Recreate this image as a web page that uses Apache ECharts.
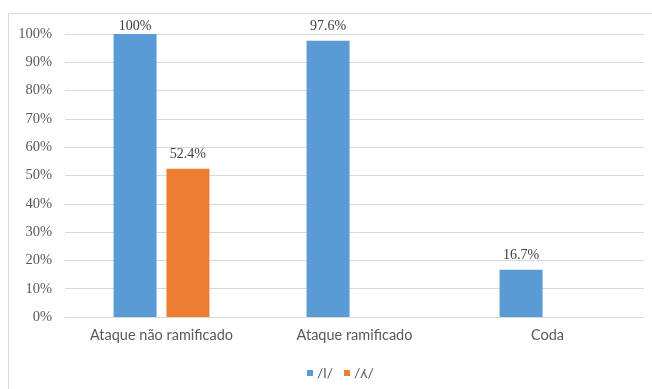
<!DOCTYPE html>
<html>
<head>
<meta charset="utf-8">
<script src="https://cdn.jsdelivr.net/npm/echarts@6/dist/echarts.min.js"></script>
<style>
  html, body { margin: 0; padding: 0; background: #ffffff; }
  #chart { width: 652px; height: 389px; }
</style>
</head>
<body>
<div id="chart"></div>
<script>
// Categories and percentages for each lateral
const categories = ['Ataque não ramificado', 'Ataque ramificado', 'Coda'];
const seriesNames = ['/l/', '/ʎ/'];
const valuesL = [100, 97.6, 16.7];
const valuesLambda = [52.4, null, null];
const yTicks = [0, 10, 20, 30, 40, 50, 60, 70, 80, 90, 100];

const chart = echarts.init(document.getElementById('chart'), null, { renderer: 'canvas' });

const valueLabel = {
  show: true,
  position: 'top',
  distance: 7,
  fontFamily: '"Liberation Serif", "DejaVu Serif", serif',
  fontSize: 14,
  color: '#404040',
  formatter: p => p.value + '%'
};

// A label on a full-height bar is kept tight against the bar top
const toData = arr => arr.map(v => (v === 100 ? { value: v, label: { distance: 1 } } : v));

chart.setOption({
  animation: false,
  backgroundColor: '#ffffff',
  graphic: [{
    type: 'rect',
    shape: { x: 8.5, y: 13.5, width: 700, height: 400 },
    style: { fill: 'none', stroke: '#d9d9d9', lineWidth: 1 },
    silent: true,
    z: -10
  }],
  grid: { left: 65, right: 8, top: 34, bottom: 72 },
  legend: {
    top: 361,
    left: 302,
    itemWidth: 6,
    itemHeight: 6,
    itemGap: 11,
    icon: 'rect',
    textStyle: { fontFamily: 'Lato, "Open Sans", sans-serif', fontSize: 14, color: '#595959', padding: [0, 0, 0, -1] },
    data: seriesNames
  },
  xAxis: {
    type: 'category',
    data: categories,
    axisLine: { show: true, lineStyle: { color: '#d9d9d9', width: 1 } },
    axisTick: { show: false },
    axisLabel: {
      margin: 11,
      fontFamily: 'Lato, "Open Sans", sans-serif',
      fontSize: 14.5,
      color: '#595959'
    }
  },
  yAxis: {
    type: 'value',
    min: yTicks[0],
    max: yTicks[yTicks.length - 1],
    interval: 10,
    axisLine: { show: false },
    axisTick: { show: false },
    splitLine: { lineStyle: { color: '#d9d9d9', width: 1 } },
    axisLabel: {
      margin: 13,
      fontFamily: '"Liberation Serif", "DejaVu Serif", serif',
      fontSize: 14.5,
      color: '#595959',
      formatter: v => v + '%'
    }
  },
  series: [
    {
      name: seriesNames[0],
      type: 'bar',
      data: toData(valuesL),
      barWidth: 43,
      barGap: '23%',
      itemStyle: { color: '#5b9bd5' },
      label: valueLabel
    },
    {
      name: seriesNames[1],
      type: 'bar',
      data: toData(valuesLambda),
      barWidth: 43,
      barGap: '23%',
      itemStyle: { color: '#ed7d31' },
      label: valueLabel
    }
  ]
});
</script>
</body>
</html>
